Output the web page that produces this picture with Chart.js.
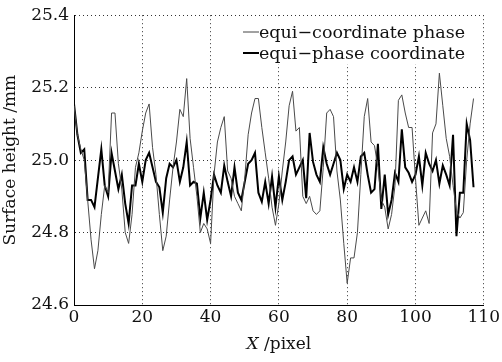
<!DOCTYPE html>
<html>
<head>
<meta charset="utf-8">
<script src="https://cdn.jsdelivr.net/npm/chart.js@4.4.0/dist/chart.umd.min.js"></script>
<style>
html,body{margin:0;padding:0;background:#fff;}
#wrap{position:relative;width:502px;height:362px;}
canvas{display:block;}
</style>
</head>
<body>
<div id="wrap"><canvas id="c" width="502" height="362"></canvas></div>
<script>
const xPixel = [0,1,2,3,4,5,6,7,8,9,10,11,12,13,14,15,16,17,18,19,20,21,22,23,24,25,26,27,28,29,
30,31,32,33,34,35,36,37,38,39,40,41,42,43,44,45,46,47,48,49,50,51,52,53,54,55,56,57,58,59,
60,61,62,63,64,65,66,67,68,69,70,71,72,73,74,75,76,77,78,79,80,81,82,83,84,85,86,87,88,89,
90,91,92,93,94,95,96,97,98,99,100,101,102,103,104,105,106,107,108,109,110,111,112,113,114,115,116,117];

const equiCoordinatePhase = [25.15,25.07,25.03,25.00,24.89,24.78,24.70,24.75,24.85,24.93,
24.91,25.13,25.13,24.99,24.92,24.80,24.77,24.85,24.98,25.02,
25.08,25.13,25.155,25.035,24.96,24.85,24.75,24.79,24.89,24.98,
25.05,25.14,25.12,25.225,25.06,24.98,24.90,24.80,24.825,24.81,
24.77,24.96,25.05,25.09,25.12,24.97,24.95,24.90,24.88,24.86,
24.95,25.07,25.13,25.17,25.17,25.09,25.02,24.95,24.87,24.82,
24.88,24.97,25.05,25.15,25.19,25.08,25.09,24.90,24.88,24.90,
24.86,24.85,24.86,24.98,25.13,25.14,25.12,24.97,24.89,24.77,
24.66,24.73,24.73,24.80,24.96,25.12,25.17,25.05,25.04,24.98,
24.89,24.87,24.81,24.85,24.93,25.165,25.18,25.13,25.09,25.09,
24.95,24.82,24.84,24.86,24.825,25.075,25.10,25.24,25.15,25.06,
25.01,24.93,24.86,24.84,24.855,25.00,25.10,25.17];

const equiPhaseCoordinate = [25.155,25.07,25.02,25.03,24.89,24.89,24.87,24.95,25.03,24.93,
24.90,25.02,24.97,24.92,24.96,24.88,24.825,24.93,24.93,24.99,
24.94,25.00,25.02,24.98,24.94,24.925,24.855,24.95,24.99,24.98,
25.00,24.94,24.98,25.05,24.93,24.94,24.935,24.84,24.91,24.835,
24.89,24.96,24.93,24.91,24.985,24.94,24.90,24.98,24.91,24.89,
24.94,24.99,25.00,25.02,24.91,24.885,24.94,24.88,24.955,24.87,
24.955,24.89,24.94,25.00,25.01,24.96,24.98,25.00,24.895,25.075,
24.995,24.96,24.94,25.035,24.99,24.96,24.99,25.02,25.00,24.92,
24.96,24.94,24.98,24.94,25.01,25.02,24.96,24.91,24.92,25.045,
24.865,24.96,24.85,24.89,24.965,24.94,25.085,24.98,24.965,24.94,
24.96,25.01,24.93,25.02,24.99,24.97,25.00,24.935,24.985,24.96,
24.93,25.07,24.79,24.91,24.91,25.10,25.055,24.925];

const xTickValues = [0,20,40,60,80,100,120];
const xTickLabels = ['0','20','40','60','80','100','110'];
const yTickLabels = ['24.6','24.8','25.0','25.2','25.4'];
const seriesNames = ['equi\u2212coordinate phase','equi\u2212phase coordinate'];

const FONT = '"DejaVu Serif", serif';

const pts = (ys) => xPixel.map((x, i) => ({x: x, y: ys[i]}));

const legendPlugin = {
  id: 'inLegend',
  afterDatasetsDraw(chart) {
    const ctx = chart.ctx;
    ctx.save();
    ctx.fillStyle = '#fff';
    ctx.fillRect(240, 18, 241, 46);
    ctx.font = '17.5px ' + FONT;
    ctx.textBaseline = 'middle';
    ctx.fillStyle = '#111';
    const rows = [[32, '#444', 1], [53, '#000', 2]];
    rows.forEach((r, i) => {
      ctx.strokeStyle = r[1];
      ctx.lineWidth = r[2];
      ctx.beginPath();
      ctx.moveTo(243, r[0]);
      ctx.lineTo(259, r[0]);
      ctx.stroke();
      ctx.fillText(seriesNames[i], 259, r[0] + 1);
    });
    ctx.restore();
  }
};

const xTitlePlugin = {
  id: 'xTitle',
  afterDraw(chart) {
    const ctx = chart.ctx;
    ctx.save();
    ctx.fillStyle = '#111';
    ctx.textBaseline = 'middle';
    const a = 'X';
    const b = ' /pixel';
    ctx.font = 'italic 17px ' + FONT;
    const wa = ctx.measureText(a).width;
    ctx.font = '17px ' + FONT;
    const wb = ctx.measureText(b).width;
    const cx = (chart.chartArea.left + chart.chartArea.right) / 2;
    let x0 = cx - (wa + wb) / 2;
    ctx.font = 'italic 17px ' + FONT;
    ctx.fillText(a, x0, 345);
    ctx.font = '17px ' + FONT;
    ctx.fillText(b, x0 + wa, 345);
    ctx.restore();
  }
};

new Chart(document.getElementById('c'), {
  type: 'line',
  data: {
    datasets: [
      {label: seriesNames[0], data: pts(equiCoordinatePhase), borderColor: '#4a4a4a', borderWidth: 1, pointRadius: 0, tension: 0, fill: false},
      {label: seriesNames[1], data: pts(equiPhaseCoordinate), borderColor: '#000', borderWidth: 2, pointRadius: 0, tension: 0, fill: false}
    ]
  },
  options: {
    responsive: false,
    devicePixelRatio: 1,
    animation: false,
    layout: {padding: {top: 14, right: 18, left: 0, bottom: 0}},
    plugins: {legend: {display: false}, tooltip: {enabled: false}},
    scales: {
      x: {
        type: 'linear', min: 0, max: 120,
        afterBuildTicks(s) { s.ticks = xTickValues.map(v => ({value: v})); },
        afterFit(s) { s.height = 57; },
        ticks: {
          autoSkip: false, maxRotation: 0, padding: 2,
          color: '#111', font: {family: FONT, size: 17},
          callback: (v) => xTickLabels[xTickValues.indexOf(v)]
        },
        grid: {color: '#333', lineWidth: 1, drawTicks: false, tickLength: 0},
        border: {display: true, color: '#000', width: 1, dash: [1, 3]}
      },
      y: {
        min: 24.6, max: 25.4,
        afterBuildTicks(s) { s.ticks = yTickLabels.map(v => ({value: parseFloat(v)})); },
        afterFit(s) { s.width = 74; },
        ticks: {
          padding: 5, color: '#111', font: {family: FONT, size: 17},
          callback: (v) => yTickLabels.find(t => Math.abs(parseFloat(t) - v) < 1e-6)
        },
        title: {display: true, text: 'Surface height /mm', color: '#111', font: {family: FONT, size: 17}, padding: 0},
        grid: {color: '#333', lineWidth: 1, drawTicks: false, tickLength: 0},
        border: {display: true, color: '#000', width: 1, dash: [1, 3]}
      }
    }
  },
  plugins: [legendPlugin, xTitlePlugin]
});
</script>
</body>
</html>
